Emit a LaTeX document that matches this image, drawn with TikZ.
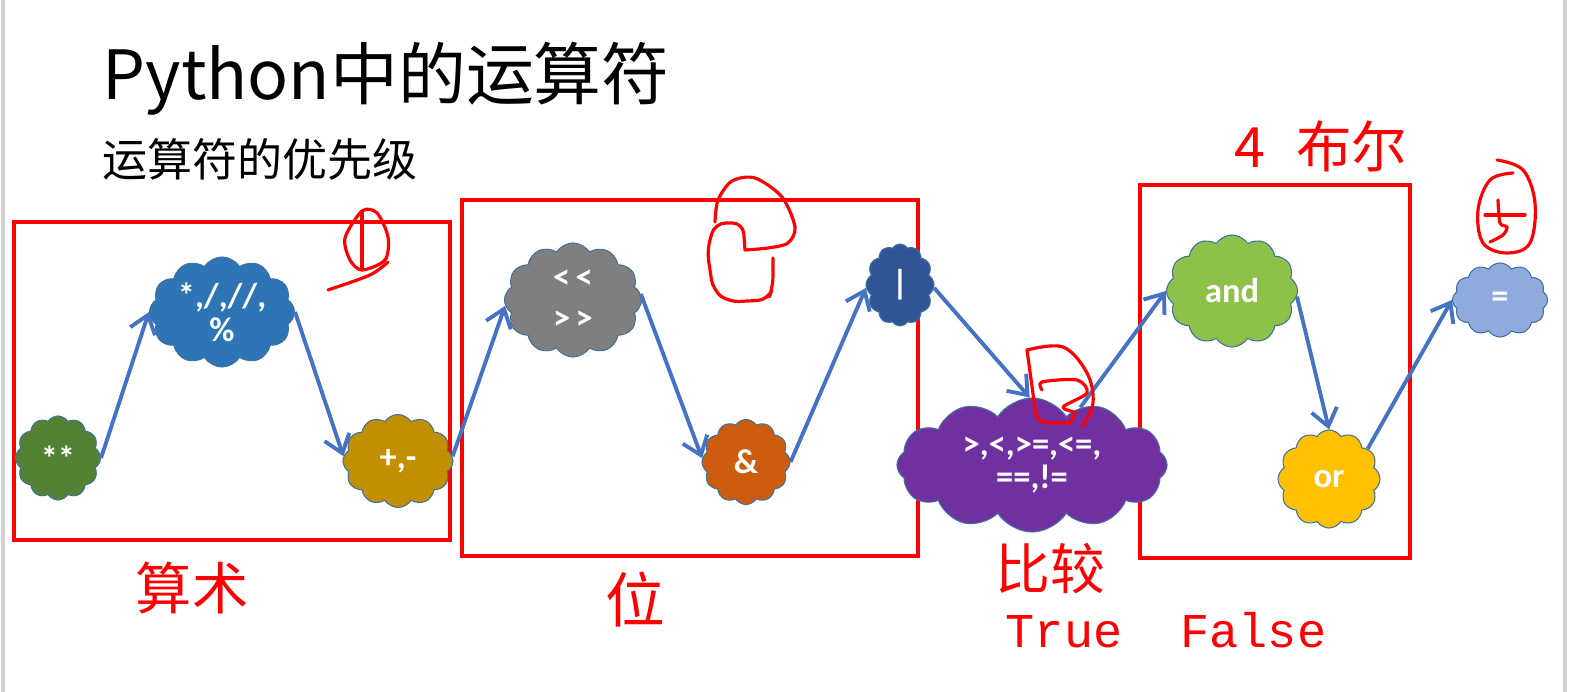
\documentclass[tikz,border=0pt]{standalone}
\usepackage{fontspec}
\setmainfont{Carlito}
\newfontfamily\cjk{Noto Sans CJK SC}
\newfontfamily\monofont{Liberation Mono}
\usetikzlibrary{arrows.meta, shapes.symbols}

\definecolor{arrowblue}{HTML}{4472C4}
\definecolor{edgeblue}{HTML}{41719C}
\definecolor{powgreen}{HTML}{548235}
\definecolor{mulblue}{HTML}{2E75B6}
\definecolor{addgold}{HTML}{C28F00}
\definecolor{shiftgray}{HTML}{7F7F7F}
\definecolor{andorange}{HTML}{CD5C0E}
\definecolor{ordarkblue}{HTML}{2F5597}
\definecolor{cmppurple}{HTML}{7030A0}
\definecolor{logicgreen}{HTML}{8EC14A}
\definecolor{logicamber}{HTML}{FFC000}
\definecolor{assignblue}{HTML}{8FAADC}

\begin{document}
\begin{tikzpicture}[
  x=0.01cm, y=-0.01cm,
  >={Straight Barb[length=1.7mm, width=2.6mm]},
  puff/.style={cloud, cloud puffs=12, cloud puff arc=115, cloud ignores aspect, draw=edgeblue, line width=0.3pt, inner sep=0pt, text=white, align=center, font=\bfseries\fontsize{9.8}{9.6}\selectfont},
  link/.style={->, draw=arrowblue, line width=1.1pt},
  groupbox/.style={draw=red, line width=1.15pt},
  redlabel/.style={text=red, inner sep=0pt, font=\cjk\fontsize{16}{16}\selectfont},
  scribble/.style={draw=red, line width=0.9pt, line cap=round, line join=round}
]
  \useasboundingbox (0,0) rectangle (1569,692);
  \draw[gray!35, line width=1pt] (3,0) -- (3,692);
  \draw[gray!35, line width=1pt] (1565,0) -- (1565,692);

  % titles
  \node[anchor=base west, inner sep=0pt, font=\cjk\fontsize{19.3}{20}\selectfont] (title) at (102,100) {Python中的运算符};
  \node[anchor=west, inner sep=0pt, font=\cjk\fontsize{12.8}{13}\selectfont] (subtitle) at (102,159) {运算符的优先级};

  % groups
  \draw[groupbox] (14,222) rectangle (450,540);
  \draw[groupbox] (462,200) rectangle (918,556);
  \draw[groupbox] (1140,185) rectangle (1410,558);

  % operators
  \node[puff, fill=powgreen, minimum width=0.85cm, minimum height=0.84cm] (pow) at (58,458) {**};
  \node[puff, fill=mulblue, minimum width=1.45cm, minimum height=1.1cm] (muldiv) at (222,312) {*,/,//,\\\%};
  \node[puff, fill=addgold, minimum width=1.1cm, minimum height=0.93cm] (addsub) at (398,461) {+,-};
  \node[puff, fill=shiftgray, minimum width=1.37cm, minimum height=1.14cm] (shift) at (573,300) {<\kern1.5pt<\\[2pt]>\kern1.5pt>};
  \node[puff, fill=andorange, minimum width=0.88cm, minimum height=0.85cm] (bitand) at (746,462) {\&};
  \node[puff, fill=ordarkblue, minimum width=0.68cm, minimum height=0.82cm] (bitor) at (900,285) {|};
  \node[puff, fill=cmppurple, minimum width=2.7cm, minimum height=1.34cm] (compare) at (1032,465) {>,<,>=,<=,\\==,!=};
  \node[puff, fill=logicgreen, minimum width=1.31cm, minimum height=1.12cm] (logand) at (1232,291) {and};
  \node[puff, fill=logicamber, minimum width=1.02cm, minimum height=0.98cm] (logor) at (1329,479) {or};
  \node[puff, fill=assignblue, minimum width=0.95cm, minimum height=0.74cm] (assign) at (1500,300) {=};

  \draw[link] (pow.0) -- (muldiv.180);
  \draw[link] (muldiv.0) -- (addsub.175);
  \draw[link] (addsub.5) -- (shift.185);
  \draw[link] (shift.5) -- (bitand.175);
  \draw[link] (bitand.0) -- (bitor.185);
  \draw[link] (bitor.355) -- (compare.92);
  \draw[link] (compare.50) -- (logand.180);
  \draw[link] (logand.355) -- (logor.90);
  \draw[link] (logor.38) -- (assign.180);

  % red notes
  \node[redlabel] (arith) at (192,588) {算术};
  \node[redlabel, font=\cjk\fontsize{17}{17}\selectfont] (bits) at (635,600) {位};
  \node[redlabel, font=\cjk\fontsize{15.6}{16}\selectfont] (cmp) at (1050,569) {比较};
  \node[redlabel, anchor=base, font=\monofont\fontsize{13.8}{14}\selectfont] (truefalse) at (1166,648) {True\ \ False};
  \node[redlabel, font=\cjk\fontsize{15.8}{16}\selectfont] (bool) at (1321,146) {4\hspace{0.55em}布尔};

  % handwritten numbers
  \draw[scribble] plot[smooth cycle] coordinates {(362,211) (345,238) (350,260) (362,270) (385,260) (388,237) (377,213)};
  \draw[scribble] (362,213) -- (362,270);
  \draw[scribble] plot[smooth] coordinates {(388,262) (370,275) (328,290)};

  \draw[scribble] plot[smooth, tension=0.5] coordinates {(715,222) (718,200) (732,181) (755,178) (782,197) (795,227) (788,243) (768,248) (745,250)};
  \draw[scribble, rounded corners=3pt] (745,250) -- (743,223) -- (715,223) -- (707,250) -- (713,290) -- (728,302) -- (768,300) -- (773,287) -- (773,258);

  \draw[scribble] plot[smooth, tension=0.6] coordinates {(1027,350) (1063,347) (1087,373) (1093,403) (1082,427)};
  \draw[scribble, rounded corners=3pt] (1027,350) -- (1037,423) -- (1070,423);
  \draw[scribble] plot[smooth, tension=0.5] coordinates {(1042,390) (1042,382) (1077,380) (1087,393) (1063,407) (1075,413) (1070,422)};

  \draw[scribble] plot[smooth, tension=0.6] coordinates {(1497,160) (1523,170) (1535,203) (1530,243) (1507,253) (1483,243) (1478,210) (1490,180) (1513,173)};
  \draw[scribble] (1485,215) -- (1525,215);
  \draw[scribble] plot[smooth, tension=0.5] coordinates {(1498,200) (1500,223) (1507,227) (1503,235) (1490,242)};
\end{tikzpicture}
\end{document}
